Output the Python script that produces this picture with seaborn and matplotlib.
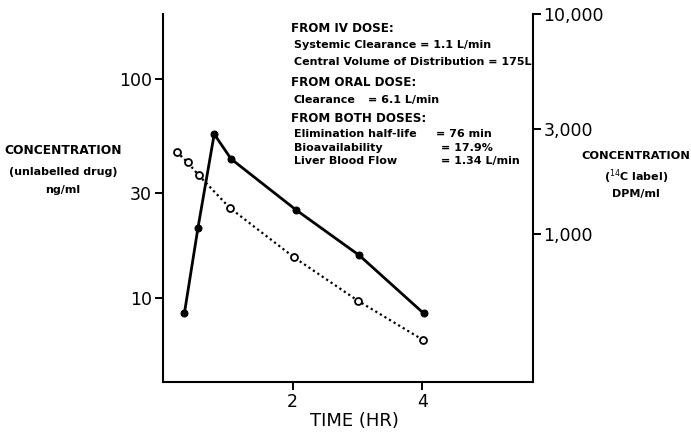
import numpy as np
import pandas as pd
import seaborn as sns
import matplotlib.pyplot as plt
from matplotlib.ticker import FixedLocator, NullLocator

# unlabelled drug, ng/ml (left axis, filled circles)
time_drug = [0.33, 0.54, 0.79, 1.05, 2.05, 3.03, 4.02]
conc_drug = [8.5, 20.9, 55.8, 43.0, 25.2, 15.6, 8.5]

# 14C label, DPM/ml (right axis, open circles)
time_label = [0.21, 0.38, 0.55, 1.03, 2.02, 3.01, 4.01]
conc_label = [2360, 2110, 1845, 1310, 780, 494, 328]

x_ticks = [2, 4]
left_ticks = [10, 30, 100]
left_labels = ["10", "30", "100"]
right_ticks = [1000, 3000, 10000]
right_labels = ["1,000", "3,000", "10,000"]

# headers of the text block
headers = [("FROM IV DOSE:", 28), ("FROM ORAL DOSE:", 82), ("FROM BOTH DOSES:", 118)]
# lines: (name, value text, x of "=", y)
lines = [
    ("Systemic Clearance = 1.1 L/min", "", 0, 45),
    ("Central Volume of Distribution = 175L", "", 0, 62),
    ("Clearance", "= 6.1 L/min", 368, 100),
    ("Elimination half-life", "= 76 min", 436, 134),
    ("Bioavailability", "= 17.9%", 441, 148),
    ("Liver Blood Flow", "= 1.34 L/min", 441, 161),
]

sns.set_theme(style="ticks")
plt.rcParams["font.family"] = ["DejaVu Sans"]
plt.rcParams["text.color"] = "black"

W, H = 691, 434
fig = plt.figure(figsize=(W / 100, H / 100), dpi=100)
ax = fig.add_axes([163 / W, 52 / H, 369.5 / W, 368 / H])
ax2 = ax.twinx()

sns.lineplot(x=time_drug, y=conc_drug, ax=ax, color="black", linewidth=2,
             marker="o", markersize=5, markeredgecolor="black")
sns.lineplot(x=time_label, y=conc_label, ax=ax2, color="black", linewidth=1.6,
             linestyle=(0, (1, 1.4)), marker="o", markersize=5,
             markerfacecolor="white", markeredgecolor="black", markeredgewidth=1.3)

ax.set_xlim(0, 5.7)
ax.set_yscale("log")
ax2.set_yscale("log")
ax.set_ylim(4.13, 197)
ax2.set_ylim(211, 10000)

for a in (ax, ax2):
    a.yaxis.set_minor_locator(NullLocator())
    a.spines["top"].set_visible(False)
    for s in a.spines.values():
        s.set_linewidth(1.5)
        s.set_color("black")
ax.spines["right"].set_visible(False)
ax2.spines["left"].set_visible(False)
ax2.spines["bottom"].set_visible(False)

ax.xaxis.set_major_locator(FixedLocator(x_ticks))
ax.set_xticklabels([str(t) for t in x_ticks])
ax.yaxis.set_major_locator(FixedLocator(left_ticks))
ax.set_yticklabels(left_labels)
ax2.yaxis.set_major_locator(FixedLocator(right_ticks))
ax2.set_yticklabels(right_labels)

ax.tick_params(axis="both", direction="out", length=6, width=1.4, labelsize=12.5,
               colors="black", pad=2)
ax2.tick_params(axis="y", direction="out", length=6, width=1.4, labelsize=12.5,
                colors="black", pad=2)
ax.set_xlabel("")
ax.set_ylabel("")
ax2.set_ylabel("")
ax.grid(False)
ax2.grid(False)

fig.text(354 / W, 1 - 421 / H, "TIME (HR)", ha="center", va="center",
         fontsize=13)

fig.text(63 / W, 1 - 150 / H, "CONCENTRATION", ha="center", va="center",
         fontsize=8.8, fontweight="bold")
fig.text(63 / W, 1 - 172 / H, "(unlabelled drug)", ha="center", va="center",
         fontsize=8, fontweight="bold")
fig.text(63 / W, 1 - 190 / H, "ng/ml", ha="center", va="center",
         fontsize=8, fontweight="bold")

fig.text(636 / W, 1 - 156 / H, "CONCENTRATION", ha="center", va="center",
         fontsize=8.2, fontweight="bold")
fig.text(636 / W, 1 - 177 / H, r"($^{14}$C label)", ha="center", va="center",
         fontsize=8, fontweight="bold")
fig.text(636 / W, 1 - 194 / H, "DPM/ml", ha="center", va="center",
         fontsize=8, fontweight="bold")

for txt, y in headers:
    fig.text(291 / W, 1 - y / H, txt, ha="left", va="center", fontsize=8.6,
             fontweight="semibold")
for name, val, xv, y in lines:
    fig.text(294 / W, 1 - y / H, name, ha="left", va="center", fontsize=8,
             fontweight="semibold")
    if val:
        fig.text(xv / W, 1 - y / H, val, ha="left", va="center", fontsize=8,
                 fontweight="semibold")

fig.savefig("out.png", dpi=100)
